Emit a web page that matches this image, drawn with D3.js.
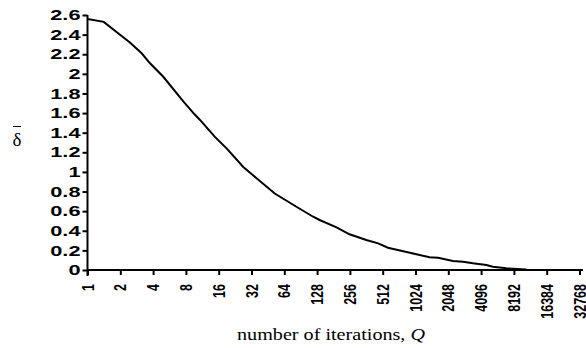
<!DOCTYPE html>
<html><head><meta charset="utf-8">
<script src="https://cdn.jsdelivr.net/npm/d3@7"></script>
<style>body{margin:0;background:#fff}svg{display:block}</style>
</head><body>
<script>
const xTicks = [1,2,4,8,16,32,64,128,256,512,1024,2048,4096,8192,16384,32768];
const yTicks = [0,0.2,0.4,0.6,0.8,1,1.2,1.4,1.6,1.8,2,2.2,2.4,2.6];
const iterations = [1,1.41,2.45,3.14,3.73,4.96,7.57,9.65,10.78,14.7,18.9,26.9,34.3,52.3,82.7,117.8,135,193,254,362,465,572,1045,1379,1652,2257,2797,3444,4576,5256,6985,10660];
const deltaBar = [2.56,2.53,2.32,2.21,2.11,1.97,1.72,1.585,1.53,1.36,1.24,1.05,0.95,0.78,0.645,0.543,0.51,0.435,0.364,0.306,0.272,0.227,0.16,0.129,0.125,0.092,0.085,0.068,0.051,0.034,0.017,0.005];

const W=586,H=348;
const svg=d3.select("body").append("svg").attr("width",W).attr("height",H);
const x=d3.scaleLog().base(2).domain([1,32768]).range([87.5,579.5]);
const y=d3.scaleLinear().domain([0,2.6]).range([270,15]);

const gx=svg.append("g").attr("transform","translate(0,270)")
  .call(d3.axisBottom(x).tickValues(xTicks).tickFormat(d3.format("d")).tickSizeInner(5).tickSizeOuter(0).tickPadding(4));
gx.select(".domain").attr("d","M87.5,0H583").attr("stroke","#000").attr("stroke-width",2);
gx.selectAll(".tick line").attr("stroke","#000").attr("stroke-width",2);
gx.selectAll(".tick text")
  .attr("transform","rotate(-90) scale(1,1.3)").attr("text-anchor","end")
  .attr("x",-14).attr("y",0).attr("dy","0.35em")
  .attr("font-family","Liberation Sans, Arial, sans-serif").attr("font-weight","bold").attr("font-size",12.5).attr("fill","#000");

const sx=1.5;
const gy=svg.append("g").attr("transform","translate(87.5,0)")
  .call(d3.axisLeft(y).tickValues(yTicks).tickFormat(d=>d3.format("~g")(d)).tickSizeInner(5).tickSizeOuter(0).tickPadding(3));
gy.select(".domain").attr("d","M0,15V276").attr("stroke","#000").attr("stroke-width",2);
gy.selectAll(".tick line").attr("stroke","#000").attr("stroke-width",2);
gy.selectAll(".tick text")
  .attr("x",-7/sx).attr("transform",`scale(${sx},1)`)
  .attr("font-family","Liberation Sans, Arial, sans-serif").attr("font-weight","bold").attr("font-size",14.5).attr("fill","#000");

const data=iterations.map((q,i)=>[q,deltaBar[i]]);
svg.append("path").datum(data)
  .attr("d",d3.line().x(d=>x(d[0])).y(d=>y(d[1])))
  .attr("fill","none").attr("stroke","#000").attr("stroke-width",2);

const xl=svg.append("text").attr("transform","translate(331,340) scale(1.26,1)").attr("text-anchor","middle")
  .attr("font-family","Liberation Serif, Times New Roman, serif").attr("font-size",16).attr("fill","#000");
xl.append("tspan").text("number of iterations, ");
xl.append("tspan").attr("font-style","italic").text("Q");

svg.append("text").attr("x",17).attr("y",146).attr("text-anchor","middle")
  .attr("font-family","Liberation Serif, Times New Roman, serif").attr("font-size",19).attr("fill","#000").text("δ");
svg.append("line").attr("x1",13).attr("x2",21).attr("y1",126.5).attr("y2",126.5).attr("stroke","#000").attr("stroke-width",1);
</script>
</body></html>
